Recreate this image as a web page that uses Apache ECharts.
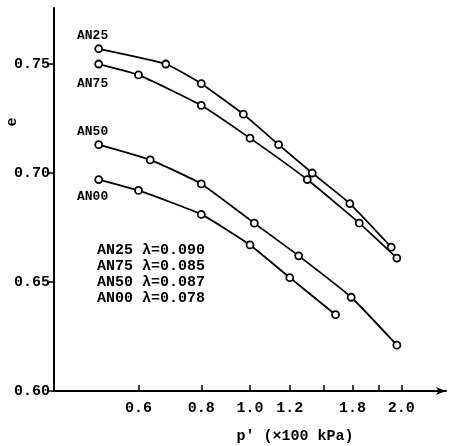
<!DOCTYPE html>
<html>
<head>
<meta charset="utf-8">
<script src="https://cdn.jsdelivr.net/npm/echarts@6/dist/echarts.min.js"></script>
<style>html,body{margin:0;padding:0;background:#fff;}#c{width:449px;height:446px;}</style>
</head>
<body>
<div id="c"></div>
<script>
// ---- data ----
const seriesNames = ['AN25', 'AN75', 'AN50', 'AN00'];
const lambdas = ['0.090', '0.085', '0.087', '0.078'];
const pAN25 = [0.50, 0.68, 0.80, 0.97, 1.14, 1.33, 1.58, 1.91];
const eAN25 = [0.757, 0.750, 0.741, 0.727, 0.713, 0.700, 0.686, 0.666];
const pAN75 = [0.50, 0.60, 0.80, 1.00, 1.30, 1.65, 1.96];
const eAN75 = [0.750, 0.745, 0.731, 0.716, 0.697, 0.677, 0.661];
const pAN50 = [0.50, 0.633, 0.80, 1.02, 1.25, 1.59, 1.96];
const eAN50 = [0.713, 0.706, 0.695, 0.677, 0.662, 0.643, 0.621];
const pAN00 = [0.50, 0.60, 0.80, 1.00, 1.20, 1.48];
const eAN00 = [0.697, 0.692, 0.681, 0.667, 0.652, 0.635];
const xTickValues = [0.6, 0.8, 1.0, 1.2, 1.4, 1.6, 1.8, 2.0];
const xLabelValues = [0.6, 0.8, 1.0, 1.2, 1.6, 2.0];
const xLabelTexts = ['0.6', '0.8', '1.0', '1.2', '1.8', '2.0'];
const yTickValues = [0.60, 0.65, 0.70, 0.75];
const xRange = [0.4074, 2.4547];
const yRange = [0.60, 0.7757];

const FONT = '"Liberation Mono", "DejaVu Sans Mono", monospace';
const pSets = [pAN25, pAN75, pAN50, pAN00];
const eSets = [eAN25, eAN75, eAN50, eAN00];

const series = seriesNames.map((n, i) => ({
  name: n,
  type: 'line',
  smooth: 0.15,
  symbol: 'circle',
  symbolSize: 7,
  showAllSymbol: true,
  lineStyle: { color: '#000', width: 1.8 },
  itemStyle: { color: '#fff', borderColor: '#000', borderWidth: 1.8 },
  data: pSets[i].map((p, k) => [Math.log10(p), eSets[i][k]]),
  z: 3
}));

const chart = echarts.init(document.getElementById('c'));
chart.setOption({
  backgroundColor: '#fff',
  animation: false,
  grid: { left: 54, right: 3, top: 8, bottom: 55, containLabel: false },
  xAxis: {
    type: 'value',
    min: Math.log10(xRange[0]),
    max: Math.log10(xRange[1]),
    axisLine: { show: true, onZero: false, lineStyle: { color: '#000', width: 2 }, symbol: ['none', 'arrow'], symbolSize: [6, 10] },
    axisTick: { show: true, inside: true, length: 6, lineStyle: { color: '#000', width: 1.5 }, customValues: xTickValues.map(Math.log10) },
    axisLabel: {
      customValues: xLabelValues.map(Math.log10),
      margin: 10,
      color: '#000', fontFamily: FONT, fontWeight: 'bold', fontSize: 15,
      formatter: function (v) {
        let best = 0, d = Infinity;
        xLabelValues.forEach((p, k) => { const dd = Math.abs(Math.log10(p) - v); if (dd < d) { d = dd; best = k; } });
        return xLabelTexts[best];
      }
    },
    splitLine: { show: false }
  },
  yAxis: {
    type: 'value',
    min: yRange[0],
    max: yRange[1],
    axisLine: { show: true, onZero: false, lineStyle: { color: '#000', width: 2 } },
    axisTick: { show: true, inside: false, length: 5, lineStyle: { color: '#000', width: 1.5 }, customValues: yTickValues },
    axisLabel: {
      customValues: yTickValues,
      margin: 4,
      color: '#000', fontFamily: FONT, fontWeight: 'bold', fontSize: 15,
      formatter: v => v.toFixed(2)
    },
    splitLine: { show: false }
  },
  graphic: [
    { type: 'text', left: 77, top: 29, style: { text: seriesNames[0], font: 'bold 13px ' + FONT, fill: '#000' } },
    { type: 'text', left: 77, top: 77, style: { text: seriesNames[1], font: 'bold 13px ' + FONT, fill: '#000' } },
    { type: 'text', left: 77, top: 125, style: { text: seriesNames[2], font: 'bold 13px ' + FONT, fill: '#000' } },
    { type: 'text', left: 77, top: 190, style: { text: seriesNames[3], font: 'bold 13px ' + FONT, fill: '#000' } },
    { type: 'text', left: 97, top: 242, style: { text: seriesNames.map((n, i) => n + ' λ=' + lambdas[i]).join('\n'), font: 'bold 15px ' + FONT, lineHeight: 16, fill: '#000' } },
    { type: 'text', x: 12, y: 122, rotation: Math.PI / 2, style: { text: 'e', font: 'bold 15px ' + FONT, fill: '#000', align: 'center', verticalAlign: 'middle' } },
    { type: 'text', x: 295, y: 436, style: { text: "p' (×100 kPa)", font: 'bold 15px ' + FONT, fill: '#000', align: 'center', verticalAlign: 'middle' } }
  ],
  series: series
});
</script>
</body>
</html>
